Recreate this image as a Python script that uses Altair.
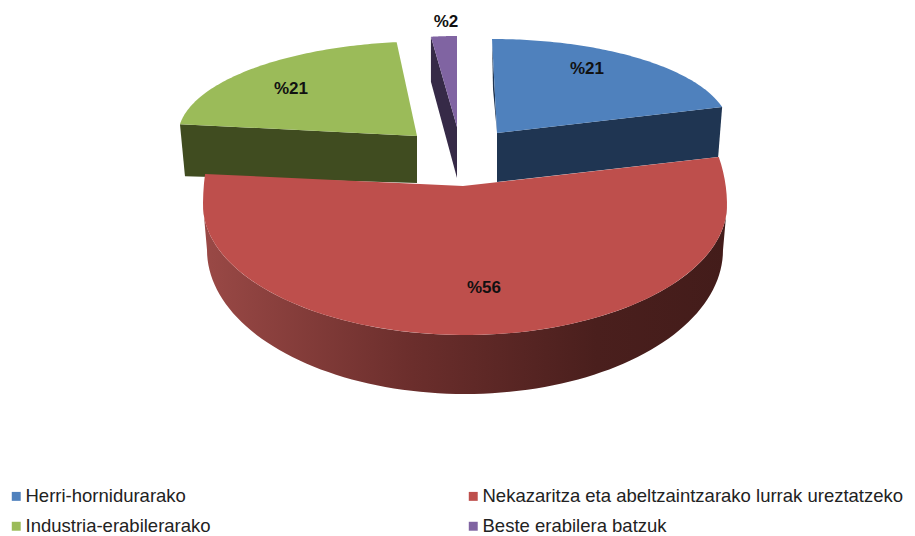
import math
import altair as alt
import pandas as pd

categories = ["Herri-hornidurarako", "Nekazaritza eta abeltzaintzarako lurrak ureztatzeko",
              "Industria-erabilerarako", "Beste erabilera batzuk"]
shares = [21, 56, 21, 2]
face_colors = ["#4F81BD", "#BE4F4C", "#9BBB59", "#8064A2"]
wall_colors = ["#1F3552", "#5A2422", "#404C20", "#362A47"]

# Page geometry of the exploded, tilted pie (one entry per slice).
# (centre x, centre y, radius x, radius y, upper radius y on the right, upper radius y on the left)
ellipse = [(492, 129.5, 237.6, 90.5, 90.5, 90.5), (465, 205, 262, 130, 193, 248),
           (428, 136, 250, 94.6, 94.6, 94.6), (457, 127, 208, 91, 91, 91)]
rim_ellipse = (465, 250, 258, 144, 144, 144)
apex = [(497, 133), (463, 186), (417, 136), (457, 127)]
wall_side = ["end", None, "start", "start"]
wall_drop = [(49, -4, 50), None, (47, 5, 52), (51, 0, 45)]
label_at = [(587, 69), (484, 288), (291, 89), (446, 22)]
W, H = 899, 528


def arc(e, a0, a1, n=90):
    cx, cy, rx, ry, ry_r, ry_l = e
    pts = []
    for i in range(n + 1):
        d = a0 + (a1 - a0) * i / n
        a = math.radians(d)
        c = math.cos(a)
        r = ry if c < 0 else (ry_r if math.sin(a) > 0 else ry_l)
        pts.append((cx + rx * math.sin(a), cy - r * c))
    return pts


spans, cum = [], 0.0
for s in shares:
    spans.append((cum, cum + s * 3.6))
    cum += s * 3.6

layers = []


def poly(points, fill):
    pts = list(points) + [points[0]]
    df = pd.DataFrame({"x": [p[0] for p in pts], "y": [p[1] for p in pts], "i": range(len(pts))})
    return alt.Chart(df).mark_line(fill=fill, stroke=None, strokeWidth=0, clip=True).encode(
        x=alt.X("x:Q", scale=alt.Scale(domain=[8, 8 + W]), axis=None),
        y=alt.Y("y:Q", scale=alt.Scale(domain=[8 + H, 8]), axis=None),
        order="i:Q",
    )


for k in [2, 3, 0]:
    a0, a1 = spans[k]
    pts = arc(ellipse[k], a0, a1)
    outer = pts[0] if wall_side[k] == "start" else pts[-1]
    da, dx, dy = wall_drop[k]
    layers.append(poly([outer, apex[k], (apex[k][0], apex[k][1] + da), (outer[0] + dx, outer[1] + dy)], wall_colors[k]))
    if k == 0:
        # thin inner wall next to the slice's straight left edge
        layers.append(poly([pts[0], apex[k], (pts[0][0] + 1, pts[0][1] + 50)], wall_colors[k]))
    layers.append(poly([apex[k]] + pts, face_colors[k]))

# large slice: shaded rim, then face
a0, a1 = spans[1]
top = arc(ellipse[1], a0, a1)
rim_top = arc(ellipse[1], 90, 270)
rim_bottom = arc(rim_ellipse, 90, 270)
rim = alt.Gradient(
    gradient="linear", x1=1, x2=0, y1=0, y2=0,
    stops=[
        alt.GradientStop(color="#431C1A", offset=0),
        alt.GradientStop(color="#4A1F1D", offset=0.25),
        alt.GradientStop(color="#6B2E2C", offset=0.6),
        alt.GradientStop(color="#9A4946", offset=1),
    ],
)
layers.append(poly(rim_top + rim_bottom[::-1], rim))
layers.append(poly([apex[1]] + top, face_colors[1]))

labels = pd.DataFrame({
    "t": ["%" + str(s) for s in shares],
    "x": [p[0] for p in label_at],
    "y": [p[1] for p in label_at],
})
layers.append(alt.Chart(labels).mark_text(
    font="Liberation Sans", fontSize=17, fontWeight="bold", color="#111111"
).encode(
    x=alt.X("x:Q", scale=alt.Scale(domain=[8, 8 + W]), axis=None),
    y=alt.Y("y:Q", scale=alt.Scale(domain=[8 + H, 8]), axis=None),
    text="t:N",
))

# the legend fills column by column
legend_order = [categories[0], categories[2], categories[1], categories[3]]
legend_colors = [face_colors[0], face_colors[2], face_colors[1], face_colors[3]]
legend_df = pd.DataFrame({"c": categories})
layers.append(alt.Chart(legend_df).mark_point(filled=True, size=0).encode(
    color=alt.Color("c:N", scale=alt.Scale(domain=legend_order, range=legend_colors), sort=legend_order,
                    legend=alt.Legend(
                        title=None, orient="none", legendX=-1, legendY=479, columns=2,
                        symbolType="square", symbolSize=80, symbolStrokeWidth=0, symbolOpacity=1,
                        labelFont="Liberation Sans", labelFontSize=18.5, labelColor="#222222",
                        labelLimit=0, columnPadding=253, rowPadding=11, labelOffset=0,
                    )),
))

chart = alt.layer(*layers).properties(
    width=W, height=H, padding=0, autosize=alt.AutoSizeParams(type="none"),
    background="white",
).configure_view(stroke=None)

chart.save("out.html", embed_options={"renderer": "svg", "actions": False})
